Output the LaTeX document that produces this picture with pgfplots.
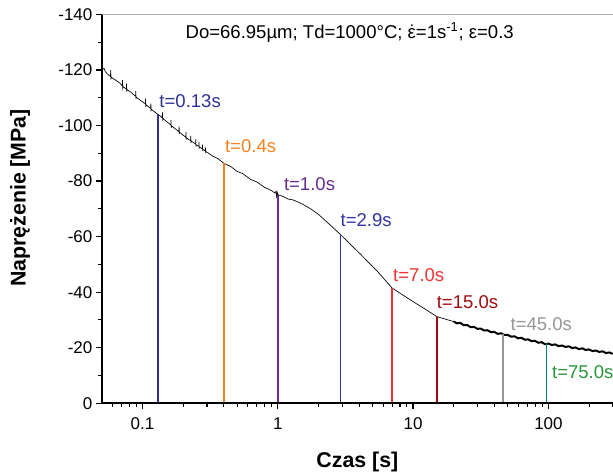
\documentclass[border=0pt]{standalone}
\usepackage{fontspec}
\setmainfont{Liberation Sans}
\usepackage{amsmath}
\usepackage{pgfplots}
\pgfplotsset{compat=1.18}
\definecolor{cA}{RGB}{46,49,150}
\definecolor{cB}{RGB}{245,130,32}
\definecolor{cC}{RGB}{102,45,145}
\definecolor{cD}{RGB}{50,52,160}
\definecolor{cE}{RGB}{238,50,50}
\definecolor{cF}{RGB}{158,11,15}
\definecolor{cG}{RGB}{150,150,150}
\definecolor{cH}{RGB}{0,128,128}
\definecolor{cHt}{RGB}{40,150,60}
\definecolor{topgray}{RGB}{170,170,170}
\tikzset{lab/.style={anchor=base west, inner sep=0pt, font=\fontsize{13.9}{16}\selectfont}}
\begin{document}
\begin{tikzpicture}
\begin{axis}[
  width=383.5pt, height=291.7pt, scale only axis,
  xmode=log, xmin=0.05, xmax=300,
  ymin=-140, ymax=0, y dir=reverse,
  clip=false,
  axis line style={draw=none},
  xtick={0.1,1,10,100}, xticklabels={0.1,1,10,100},
  minor xtick={0.06,0.07,0.08,0.09,0.2,0.3,0.4,0.5,0.6,0.7,0.8,0.9,2,3,4,5,6,7,8,9,20,30,40,50,60,70,80,90,200,300},
  ytick={-140,-120,-100,-80,-60,-40,-20,0},
  yticklabels={-140,-120,-100,-80,-60,-40,-20,0},
  minor ytick={-130,-110,-90,-70,-50,-30,-10},
  xtick pos=bottom, ytick pos=left,
  tick align=outside,
  major tick length=4.5pt, minor tick length=2.5pt,
  major tick style={black, line width=1pt},
  minor tick style={black, line width=0.8pt},
  tick label style={font=\fontsize{12.75}{15}\selectfont},
  xticklabel style={yshift=-3pt},
  yticklabel style={xshift=1pt},
]
% main curve
\addplot[black, line width=0.5pt] coordinates {
(0.05,-120.0) (0.052,-120.6) (0.053,-119.5) (0.055,-118.6)
(0.058,-117.6) (0.0583,-119.9) (0.0586,-116.9) (0.059,-117.3)
(0.064,-116.2) (0.068,-115.3)
(0.071,-114.3) (0.0713,-116.3) (0.0716,-113.4) (0.072,-114.0)
(0.076,-113.1) (0.0763,-115.1) (0.0766,-112.2) (0.077,-112.9)
(0.082,-112.0)
(0.089,-110.5) (0.0893,-112.5) (0.0896,-109.5) (0.09,-110.2)
(0.097,-109.0)
(0.105,-107.8) (0.1054,-109.7) (0.1058,-106.7) (0.106,-107.5)
(0.115,-106.2) (0.1154,-108.0) (0.1158,-105.1) (0.116,-105.9)
(0.125,-104.6) (0.133,-103.7)
(0.14,-102.8) (0.1405,-104.7) (0.141,-101.8) (0.1415,-102.6)
(0.15,-101.5)
(0.162,-100.2) (0.1626,-102.0) (0.1632,-99.2) (0.164,-99.9)
(0.175,-98.8)
(0.186,-97.8) (0.1866,-99.7) (0.1872,-96.9) (0.188,-97.6)
(0.2,-96.5)
(0.209,-95.8) (0.2096,-97.6) (0.2102,-94.9) (0.211,-95.6)
(0.219,-95.0)
(0.227,-94.6) (0.2277,-96.3) (0.2284,-93.7) (0.229,-94.4)
(0.238,-93.9)
(0.247,-93.3) (0.2477,-95.0) (0.2484,-92.4) (0.249,-93.1)
(0.255,-92.8)
(0.261,-92.5) (0.2617,-94.1) (0.2624,-91.7) (0.263,-92.3)
(0.27,-92.0)
(0.277,-91.6) (0.2778,-93.1) (0.2786,-90.9) (0.279,-91.4)
(0.285,-91.2)
(0.292,-90.8) (0.2928,-92.1) (0.2936,-90.1) (0.294,-90.6)
(0.3,-90.4) (0.33,-89.0) (0.36,-88.1) (0.4,-86.4) (0.45,-85.2) (0.5,-83.5)
(0.55,-82.7) (0.63,-80.6) (0.7,-79.7) (0.8,-77.7) (0.9,-76.6)
(0.95,-75.7) (0.97,-76.3) (0.98,-74.5) (0.99,-76.0) (1.0,-75.1)
(1.1,-74.4) (1.2,-73.5) (1.3,-73.2) (1.5,-71.9) (1.75,-70.0) (2.0,-68.0)
(2.4,-64.5) (2.9,-60.8) (3.5,-56.9) (4.1,-53.6) (4.8,-50.2) (5.45,-47.5)
(6.3,-44.0) (7.0,-41.5) (8.5,-38.8) (10,-36.6) (12,-34.2) (15,-31.2) (20,-29.4)
};
% noisy tail
\addplot[black, line width=1.5pt] coordinates {
(20,-29.4) (21.1,-28.8) (22.4,-28.9) (23.7,-28.1) (25.1,-28.2) (26.6,-27.4)
(28.2,-27.5) (29.9,-26.8) (31.6,-26.9) (33.5,-26.2) (35.5,-26.3) (37.6,-25.6)
(39.8,-25.7) (42.2,-25.0) (44.7,-25.2) (47.3,-24.6) (50.1,-24.6) (53.1,-24.0)
(56.2,-24.1) (59.6,-23.4) (63.1,-23.6) (66.8,-22.9) (70.8,-23.0) (75.0,-22.4)
(79.4,-22.5) (84.1,-21.8) (89.1,-22.0) (94.4,-21.3) (100,-21.5) (105.9,-21.0)
(112.2,-21.2) (118.9,-20.6) (125.9,-20.8) (133.4,-20.3) (141.3,-20.5) (149.6,-19.9)
(158.5,-20.1) (167.9,-19.5) (177.8,-19.8) (188.4,-19.2) (199.5,-19.4) (211.3,-18.8)
(223.9,-19.0) (237.1,-18.5) (251.2,-18.7) (266.1,-18.1) (281.8,-18.3) (298.5,-17.8)
};
% vertical lines
\addplot[cA, line width=1.1pt] coordinates {(0.13,0) (0.13,-104)};
\addplot[cB, line width=1.1pt] coordinates {(0.4,0) (0.4,-86.4)};
\addplot[cC, line width=1.1pt] coordinates {(1.0,0) (1.0,-75.1)};
\addplot[cD, line width=1.1pt] coordinates {(2.9,0) (2.9,-60.8)};
\addplot[cE, line width=1.1pt] coordinates {(7.0,0) (7.0,-41.5)};
\addplot[cF, line width=1.1pt] coordinates {(15,0) (15,-31.2)};
\addplot[cG, line width=1.1pt] coordinates {(46,0) (46,-24.8)};
\addplot[cH, line width=1.1pt] coordinates {(97,0) (97,-21.6)};
% axis frame
\draw[black, line width=1.4pt] (axis cs:0.05,-140) -- (axis cs:0.05,0) -- (axis cs:300,0);
\draw[topgray, line width=1.3pt] (axis cs:0.05,-140) -- (axis cs:300,-140);
% labels
\node[lab, cA] at (axis cs:0.133,-106.5) {t=0.13s};
\node[lab, cB] at (axis cs:0.406,-90.4) {t=0.4s};
\node[lab, cC] at (axis cs:1.107,-76.5) {t=1.0s};
\node[lab, cD] at (axis cs:2.9,-63.8) {t=2.9s};
\node[lab, cE] at (axis cs:7.1,-43.9) {t=7.0s};
\node[lab, cF] at (axis cs:14.9,-34.1) {t=15.0s};
\node[lab, cG] at (axis cs:52.3,-26.1) {t=45.0s};
\node[lab, cHt] at (axis cs:106,-9.1) {t=75.0s};
\node[anchor=center, inner sep=0pt, font=\fontsize{13.9}{16}\selectfont] at (axis cs:3.4,-133.4) {Do=66.95µm; Td=1000°C; \ensuremath{\dot{\text{ε}}}=1s\textsuperscript{-1}; ε=0.3};
\node[font=\bfseries\fontsize{16}{19}\selectfont, anchor=center, inner sep=0pt, yshift=-43.7pt] at (axis cs:3.873,0) {Czas [s]};
\node[font=\bfseries\fontsize{16}{19}\selectfont, anchor=center, inner sep=0pt, rotate=90] at ([xshift=-61.3pt]axis cs:0.05,-73.9) {Naprężenie [MPa]};
\end{axis}
\pgfresetboundingbox
\path[use as bounding box] ([shift={(-76.3pt,-53.8pt)}]current axis.south west) rectangle ([shift={(0pt,10.8pt)}]current axis.north east);
\end{tikzpicture}
\end{document}
